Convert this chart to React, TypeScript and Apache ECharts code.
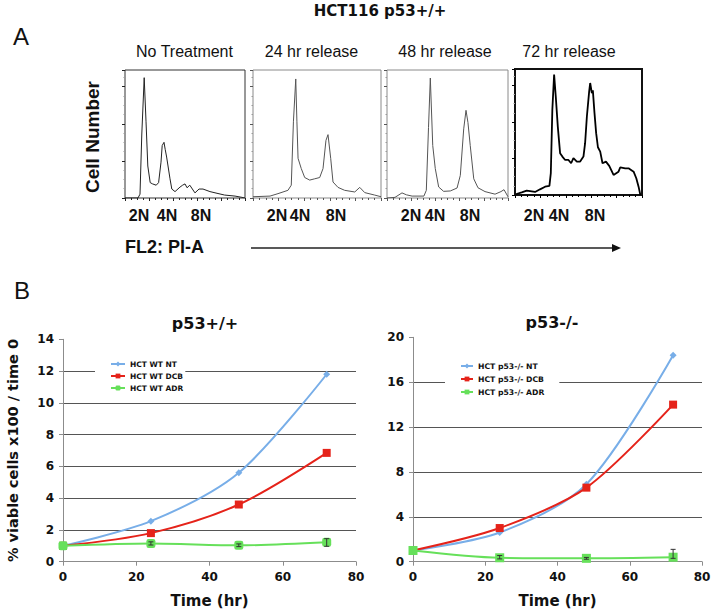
import React, { useEffect, useRef } from 'react';
import * as echarts from 'echarts';

// ---------- Panel A: PI-A histograms (x = PI-A channel 0-100, y = cell count 0-100) ----------
const HIST_NO_TREATMENT: number[][] = [
  [0, 0], [10.8, 0], [12.5, 3], [14, 50], [16, 94], [17.5, 60], [19, 25], [21, 12], [23, 11], [26, 10],
  [28, 12], [30, 28], [31, 41], [32.5, 43.5], [33.5, 38], [34.7, 32], [37.5, 15], [39, 7], [41.7, 5],
  [45.8, 8.5], [48, 10], [50, 11], [51.7, 8], [54, 10], [58.3, 4], [61.7, 7], [65, 7], [70.8, 5],
  [77.5, 3.5], [83, 2.3], [91.7, 1.5], [97.5, 0.5], [100, 0],
];
const HIST_24HR: number[][] = [
  [0, 1], [13.3, 1.5], [19.5, 3.4], [27.3, 6], [29.9, 10], [31.6, 60], [33.4, 93], [34.3, 60], [35.2, 31],
  [37.7, 23], [40.4, 16], [44.3, 14], [48.2, 15], [52.1, 16], [54.7, 23], [57, 45], [58.6, 49.5],
  [60.7, 31], [62.5, 12.5], [66.4, 8.3], [71.6, 6], [79.5, 4.7], [83.4, 8.3], [87.3, 4.2], [95, 2.3], [100, 1],
];
const HIST_48HR: number[][] = [
  [0, 0], [6.6, 0.5], [12.4, 4], [16, 2.5], [20.7, 1.5], [30.5, 1.5], [32.5, 6], [34.3, 55], [35.8, 93.75],
  [37.8, 41], [39.9, 23], [42.7, 8.6], [46.8, 5.2], [52.3, 5.5], [57.9, 7.8], [60.6, 17.7], [63.4, 54],
  [65.3, 68.5], [66.9, 59], [68.8, 41], [71.7, 15], [75.2, 8], [81, 5], [89.3, 3], [94.2, 5], [96.7, 6.5], [100, 1],
];
const HIST_72HR: number[][] = [
  [0.5, 0.6], [5.3, 2.1], [9.2, 3.5], [15.8, 2.4], [19.7, 4.5], [23.7, 6.6], [27.1, 7.2], [28.2, 17.3],
  [29.4, 67.6], [30.8, 95.5], [32.1, 78.2], [33.7, 54.3], [35.5, 33.2], [37.3, 30.5], [39.5, 27.8],
  [42.1, 27.8], [44.2, 25.2], [46, 29.2], [48.7, 26.5], [51.3, 26.5], [53.9, 30.5], [55.2, 41.1],
  [56.6, 62.3], [58.4, 82.2], [59.2, 88.9], [60.5, 80.9], [61.3, 83], [62.6, 65], [63.9, 49.1],
  [65.3, 37.9], [67.1, 34.4], [68.9, 25.2], [71.6, 26.5], [74.2, 23.1], [77.6, 15.9], [81.5, 18.5],
  [82.9, 22], [86.8, 21.2], [89.4, 21.2], [93.4, 18.5], [95.5, 13.3], [97.3, 6.6], [98.7, 0],
];
const PANEL_TITLES = ['No Treatment', '24 hr release', '48 hr release', '72 hr release'];
const PLOIDY_LABELS = ['2N', '4N', '8N'];

// ---------- Panel B: viability ----------
const TIME = [0, 24, 48, 72];
const WT_NT = [1, 2.55, 5.6, 11.8];
const WT_DCB = [1, 1.8, 3.6, 6.85];
const WT_ADR = [1, 1.15, 1.03, 1.22];
const WT_ADR_ERR_LOW = [null, 1.05, 0.95, 0.97];
const WT_ADR_ERR_HIGH = [null, 1.25, 1.12, 1.45];
const KO_NT = [1, 2.6, 6.9, 18.4];
const KO_DCB = [1, 3.0, 6.6, 14.0];
const KO_ADR = [1, 0.35, 0.3, 0.4];
const KO_ADR_ERR_LOW = [null, 0.25, 0.22, 0.3];
const KO_ADR_ERR_HIGH = [null, 0.55, 0.38, 1.1];
const WT_NAMES = ['HCT WT NT', 'HCT WT DCB', 'HCT WT ADR'];
const KO_NAMES = ['HCT p53-/- NT', 'HCT p53-/- DCB', 'HCT p53-/- ADR'];

const C_NT = '#78aee8';
const C_DCB = '#e5231a';
const C_ADR = '#66e05a';
const VERD = 'DejaVu Sans, Verdana, sans-serif';
const ARIAL = 'Liberation Sans, Arial, sans-serif';

function txt(text: string, x: number, y: number, o: any = {}) {
  return {
    type: 'text', x, y, rotation: o.rotation || 0, silent: true,
    style: {
      text, fill: o.fill || '#111', fontSize: o.size || 12, fontWeight: o.weight || 'normal',
      fontFamily: o.family || ARIAL,
      align: o.align || 'center', textAlign: o.align || 'center',
      verticalAlign: 'middle', textVerticalAlign: 'middle',
    },
  };
}

export default function App() {
  const ref = useRef<HTMLDivElement>(null);
  useEffect(() => {
    if (!ref.current) return;
    const chart = echarts.init(ref.current, null, { renderer: 'svg' });

    const histGrids = [
      { left: 125, top: 70, width: 120, height: 128, borderColor: '#333', borderWidth: 1 },
      { left: 253, top: 70, width: 128, height: 128, borderColor: '#8a8a8a', borderWidth: 1 },
      { left: 387, top: 70, width: 121, height: 128, borderColor: '#8a8a8a', borderWidth: 1 },
      { left: 515, top: 69, width: 127, height: 126, borderColor: '#111', borderWidth: 2 },
    ];
    const histData = [HIST_NO_TREATMENT, HIST_24HR, HIST_48HR, HIST_72HR];
    const histColors = ['#222', '#555', '#555', '#000'];
    const histWidths = [1, 1, 1, 1.8];

    const grids: any[] = histGrids.map((g) => ({ ...g, show: true, backgroundColor: 'transparent', outerBoundsMode: 'none' }));
    grids.push({ left: 63, top: 339.3, width: 293, height: 222.4, outerBoundsMode: 'none' });
    grids.push({ left: 413, top: 337.3, width: 289, height: 224.4, outerBoundsMode: 'none' });

    const xAxes: any[] = histGrids.map((_, i) => ({
      gridIndex: i, type: 'value', min: 0, max: 100, interval: 20,
      axisLine: { show: false }, axisLabel: { show: false }, splitLine: { show: false },
      axisTick: { show: true, length: 3, lineStyle: { color: histColors[i] } },
      minorTick: { show: true, splitNumber: 4, length: 2, lineStyle: { color: histColors[i] } },
    }));
    const yAxes: any[] = histGrids.map((_, i) => ({
      gridIndex: i, type: 'value', min: 0, max: 100, interval: 29,
      axisLine: { show: false }, axisLabel: { show: false }, splitLine: { show: false },
      axisTick: { show: true, length: 3, lineStyle: { color: histColors[i] } },
      minorTick: { show: true, splitNumber: 4, length: 1.5, lineStyle: { color: '#999' } },
    }));

    const lineX = (gi: number) => ({
      gridIndex: gi, type: 'value', min: 0, max: 80, interval: 20,
      axisLine: { show: true, lineStyle: { color: '#8c8c8c', width: 1 } },
      axisTick: { show: true, length: 4, lineStyle: { color: '#8c8c8c' } },
      axisLabel: { fontFamily: VERD, fontWeight: 'bold', fontSize: 12, color: '#111', margin: 9 },
      splitLine: { show: false },
      name: 'Time (hr)', nameLocation: 'middle', nameGap: 32, nameMoveOverlap: false,
      nameTextStyle: { fontFamily: VERD, fontWeight: 'bold', fontSize: 15, color: '#111' },
    });
    const lineY = (gi: number, max: number, interval: number, name: string) => ({
      gridIndex: gi, type: 'value', min: 0, max, interval,
      axisLine: { show: true, lineStyle: { color: '#8c8c8c', width: 1 } },
      axisTick: { show: true, length: 4, lineStyle: { color: '#8c8c8c' } },
      axisLabel: { fontFamily: VERD, fontWeight: 'bold', fontSize: 12, color: '#111', margin: 9 },
      splitLine: { show: true, showMaxLine: false, showMinLine: false, lineStyle: { color: '#555', width: 1 } },
      name, nameLocation: 'middle', nameGap: 43, nameRotate: 90, nameMoveOverlap: false,
      nameTextStyle: { fontFamily: VERD, fontWeight: 'bold', fontSize: 14.5, color: '#111' },
    });
    xAxes.push(lineX(4), lineX(5));
    yAxes.push(lineY(4, 14, 2, '% viable cells x100 / time 0'), lineY(5, 20, 4, ''));

    const series: any[] = histData.map((d, i) => ({
      type: 'line', xAxisIndex: i, yAxisIndex: i, data: d, showSymbol: false, symbol: 'none',
      lineStyle: { color: histColors[i], width: histWidths[i] }, silent: true,
    }));

    const mk = (name: string, vals: number[], color: string, symbol: string, size: number, gi: number) => ({
      name, type: 'line', xAxisIndex: gi, yAxisIndex: gi, smooth: 0.3,
      data: TIME.map((t, i) => [t, vals[i]]),
      symbol, symbolSize: size, showSymbol: true,
      lineStyle: { color, width: 2 }, itemStyle: { color }, z: 3,
    });
    const errBars = (lo: (number | null)[], hi: (number | null)[], gi: number) => ({
      type: 'custom', xAxisIndex: gi, yAxisIndex: gi, z: 5, silent: true,
      data: TIME.map((t, i) => [t, lo[i], hi[i]]).filter((r) => r[1] != null),
      renderItem: (params: any, api: any) => {
        const x = api.value(0);
        const p1 = api.coord([x, api.value(1)]);
        const p2 = api.coord([x, api.value(2)]);
        return {
          type: 'group',
          children: [
            { type: 'line', shape: { x1: p1[0], y1: p1[1], x2: p2[0], y2: p2[1] }, style: { stroke: '#333', lineWidth: 1 } },
            { type: 'line', shape: { x1: p2[0] - 2.5, y1: p2[1], x2: p2[0] + 2.5, y2: p2[1] }, style: { stroke: '#333', lineWidth: 1 } },
            { type: 'line', shape: { x1: p1[0] - 2.5, y1: p1[1], x2: p1[0] + 2.5, y2: p1[1] }, style: { stroke: '#333', lineWidth: 1 } },
          ],
        };
      },
    });
    series.push(
      mk(WT_NAMES[0], WT_NT, C_NT, 'diamond', 7, 4),
      mk(WT_NAMES[1], WT_DCB, C_DCB, 'rect', 8, 4),
      mk(WT_NAMES[2], WT_ADR, C_ADR, 'roundRect', 9, 4),
      errBars(WT_ADR_ERR_LOW, WT_ADR_ERR_HIGH, 4),
      mk(KO_NAMES[0], KO_NT, C_NT, 'diamond', 7, 5),
      mk(KO_NAMES[1], KO_DCB, C_DCB, 'rect', 8, 5),
      mk(KO_NAMES[2], KO_ADR, C_ADR, 'rect', 9, 5),
      errBars(KO_ADR_ERR_LOW, KO_ADR_ERR_HIGH, 5),
    );

    const legendBase = {
      orient: 'vertical', backgroundColor: '#fff', itemGap: 0, itemHeight: 6,
      textStyle: { fontFamily: VERD, fontWeight: 'bold', color: '#111' },
      selectedMode: false,
    };

    const panelCenters = [184.5, 311.5, 445, 569];
    const ploidyX = [[139, 167, 201], [277, 300, 336], [411, 435, 470], [534, 559, 595]];
    const graphics: any[] = [
      txt('HCT116 p53+/+', 380, 11, { size: 15, weight: 'bold', family: VERD }),
      txt('A', 21, 36, { size: 24 }),
      txt('B', 22, 290, { size: 24 }),
      txt('Cell Number', 92, 137, { size: 19, weight: 'bold', rotation: Math.PI / 2 }),
      txt('FL2: PI-A', 125, 247, { size: 18, weight: 'bold', align: 'left' }),
      { type: 'line', silent: true, shape: { x1: 251, y1: 248, x2: 613, y2: 248 }, style: { stroke: '#222', lineWidth: 1.5 } },
      { type: 'polygon', silent: true, shape: { points: [[612, 244], [621, 248], [612, 252]] }, style: { fill: '#111' } },
      txt('p53+/+', 205, 323, { size: 16, weight: 'bold', family: VERD }),
      txt('p53-/-', 552, 322, { size: 16, weight: 'bold', family: VERD }),
    ];
    PANEL_TITLES.forEach((t, i) => graphics.push(txt(t, panelCenters[i], 51, { size: 16 })));
    ploidyX.forEach((xs) => xs.forEach((x, j) => graphics.push(txt(PLOIDY_LABELS[j], x, 215, { size: 16, weight: 'bold' }))));

    chart.setOption({
      animation: false,
      textStyle: { fontFamily: ARIAL },
      grid: grids,
      xAxis: xAxes,
      yAxis: yAxes,
      series,
      legend: [
        { ...legendBase, data: WT_NAMES, left: 95, top: 354, padding: [4, 2, 4, 15], itemWidth: 14,
          textStyle: { ...legendBase.textStyle, fontSize: 7.5, lineHeight: 12 } },
        { ...legendBase, data: KO_NAMES, left: 445, top: 355.5, padding: [4, 15, 4, 15], itemWidth: 12,
          textStyle: { ...legendBase.textStyle, fontSize: 7.7, lineHeight: 13 } },
      ],
      graphic: graphics,
    });
    return () => chart.dispose();
  }, []);
  return <div ref={ref} style={{ position: 'absolute', left: 0, top: 0, width: 712, height: 611, background: '#fff' }} />;
}
